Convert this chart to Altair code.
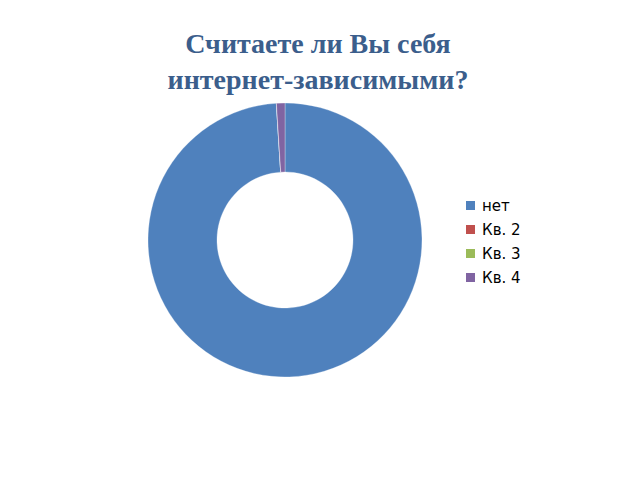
import altair as alt
import pandas as pd

categories = ["нет", "Кв. 2", "Кв. 3", "Кв. 4"]
values = [99.0, 0.0, 0.0, 1.0]
colors = ["#4F81BD", "#C0504D", "#9BBB59", "#8064A2"]
title_lines = ["Считаете ли Вы себя", "интернет-зависимыми?"]

df = pd.DataFrame({"cat": categories, "val": values, "ord": list(range(len(categories)))})
tdf = pd.DataFrame({"line": title_lines, "y": [53, 89]})

arc = alt.Chart(df).mark_arc(innerRadius=68, outerRadius=137, stroke="#ffffff", strokeWidth=0.3).encode(
    theta=alt.Theta("val:Q", stack=True),
    order=alt.Order("ord:Q"),
    color=alt.Color(
        "cat:N",
        scale=alt.Scale(domain=categories, range=colors),
        legend=alt.Legend(
            title=None,
            orient="none",
            legendX=463,
            legendY=198,
            symbolType="square",
            symbolSize=81,
            symbolStrokeWidth=0,
            labelFont="DejaVu Sans",
            labelFontSize=15,
            labelColor="#000000",
            rowPadding=8,
            labelOffset=4,
        ),
    ),
    x=alt.value(285),
    y=alt.value(240),
)

title = alt.Chart(tdf).mark_text(
    font="Liberation Serif", fontSize=28, fontWeight="bold", color="#3B5E8C", align="center", baseline="alphabetic"
).encode(
    text="line:N",
    x=alt.value(318),
    y=alt.Y("y:Q", scale=None),
)

chart = alt.layer(arc, title).properties(
    width=640, height=480, autosize="none", padding=0
).configure_view(stroke=None)

chart.save("out.html", embed_options={"renderer": "svg", "actions": False})
